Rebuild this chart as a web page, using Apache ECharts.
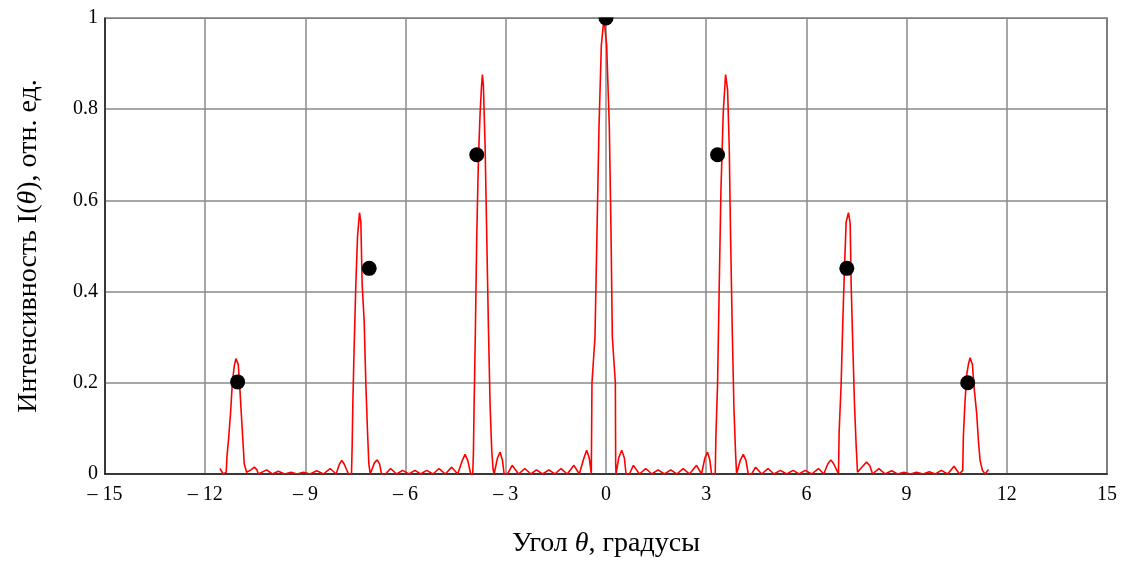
<!DOCTYPE html>
<html>
<head>
<meta charset="utf-8">
<script src="https://cdn.jsdelivr.net/npm/echarts@6/dist/echarts.min.js"></script>
<style>
  html, body { margin: 0; padding: 0; background: #fff; }
  #chart { width: 1129px; height: 563px; }
</style>
</head>
<body>
<div id="chart"></div>
<script>
// угол (градусы) и интенсивность
var angles = [
  -11.56, -11.46, -11.37, -11.35, -11.30, -11.24, -11.19, -11.13, -11.08, -11.05, -11.01, -10.97, -10.93, -10.88, -10.83, -10.76, -10.73,
  -10.63, -10.53, -10.45, -10.41, -10.16, -9.99, -9.81, -9.62, -9.43, -9.25, -9.06, -8.86, -8.66, -8.46, -8.26, -8.08, -7.98, -7.91, -7.84, -7.71,
  -7.62, -7.60, -7.58, -7.54, -7.49, -7.44, -7.38, -7.34, -7.30, -7.24, -7.19, -7.14, -7.10, -7.06,
  -6.93, -6.85, -6.78, -6.72, -6.60, -6.45, -6.27, -6.09, -5.90, -5.72, -5.55, -5.37, -5.18, -5.00, -4.81, -4.62, -4.44, -4.30, -4.22, -4.14, -4.05,
  -3.99, -3.97, -3.95, -3.91, -3.87, -3.82, -3.77, -3.73, -3.70, -3.67, -3.62, -3.57, -3.52, -3.47, -3.42, -3.38, -3.35,
  -3.25, -3.17, -3.10, -3.05, -2.95, -2.81, -2.62, -2.43, -2.25, -2.08, -1.90, -1.71, -1.53, -1.35, -1.16, -0.96, -0.80, -0.66, -0.58, -0.50, -0.44,
  -0.43, -0.42, -0.33, -0.27, -0.21, -0.14, -0.06, 0.02, 0.10, 0.15, 0.19, 0.28, 0.29, 0.30,
  0.38, 0.47, 0.55, 0.60, 0.70, 0.82, 1.00, 1.19, 1.37, 1.56, 1.75, 1.94, 2.12, 2.31, 2.50, 2.71, 2.86, 2.96, 3.04, 3.11, 3.16,
  3.27, 3.29, 3.34, 3.39, 3.44, 3.51, 3.58, 3.64, 3.69, 3.73, 3.78, 3.83, 3.88, 3.91,
  4.02, 4.11, 4.19, 4.26, 4.36, 4.48, 4.66, 4.85, 5.03, 5.22, 5.41, 5.60, 5.78, 5.96, 6.16, 6.36, 6.52, 6.64, 6.73, 6.82, 6.96,
  6.98, 7.04, 7.09, 7.14, 7.19, 7.26, 7.31, 7.34, 7.39, 7.44, 7.49, 7.53, 7.56,
  7.70, 7.80, 7.90, 7.98, 8.17, 8.36, 8.55, 8.73, 8.92, 9.11, 9.30, 9.49, 9.68, 9.86, 10.04, 10.23, 10.42, 10.58, 10.62,
  10.68, 10.70, 10.75, 10.80, 10.85, 10.90, 10.95, 10.97, 11.02, 11.10, 11.15, 11.20, 11.27, 11.35, 11.45
]
var intensity = [
  0.012, 0, 0.004, 0.037, 0.077, 0.135, 0.197, 0.237, 0.253, 0.253, 0.240, 0.197, 0.146, 0.084, 0.022, 0.004, 0,
  0.009, 0.015, 0.009, 0, 0.009, 0, 0.006, 0, 0.004, 0, 0.004, 0, 0.007, 0, 0.012, 0, 0.022, 0.030, 0.022, 0,
  0, 0.062, 0.153, 0.280, 0.415, 0.520, 0.573, 0.553, 0.415, 0.335, 0.197, 0.092, 0.022, 0,
  0.025, 0.031, 0.022, 0, 0, 0.012, 0, 0.008, 0, 0.008, 0, 0.008, 0, 0.012, 0, 0.015, 0, 0.030, 0.043, 0.030, 0,
  0, 0.044, 0.146, 0.317, 0.520, 0.690, 0.790, 0.847, 0.876, 0.850, 0.720, 0.520, 0.320, 0.150, 0.050, 0.010, 0,
  0.035, 0.048, 0.030, 0, 0, 0.019, 0, 0.012, 0, 0.009, 0, 0.009, 0, 0.012, 0, 0.019, 0, 0.035, 0.052, 0.035, 0,
  0, 0.200, 0.300, 0.530, 0.760, 0.940, 1.000, 0.940, 0.760, 0.530, 0.300, 0.200, 0.020, 0,
  0.035, 0.052, 0.035, 0, 0, 0.019, 0, 0.012, 0, 0.009, 0, 0.009, 0, 0.012, 0, 0.019, 0, 0.035, 0.048, 0.030, 0,
  0, 0.081, 0.197, 0.411, 0.618, 0.792, 0.876, 0.843, 0.716, 0.520, 0.317, 0.146, 0.044, 0,
  0.030, 0.043, 0.030, 0, 0, 0.015, 0, 0.012, 0, 0.008, 0, 0.008, 0, 0.008, 0, 0.012, 0, 0.022, 0.031, 0.022, 0,
  0.092, 0.197, 0.335, 0.451, 0.553, 0.573, 0.550, 0.415, 0.280, 0.153, 0.062, 0.004, 0,
  0.018, 0.026, 0.018, 0, 0.012, 0, 0.007, 0, 0.004, 0, 0.004, 0, 0.005, 0, 0.008, 0, 0.017, 0, 0,
  0.008, 0.084, 0.160, 0.218, 0.240, 0.255, 0.255, 0.240, 0.190, 0.131, 0.073, 0.030, 0.008, 0, 0.010
]

// чёрные точки
var dotAngles = [-11.03, -7.09, -3.87, 0, 3.34, 7.21, 10.83]
var dotValues = [0.202, 0.451, 0.700, 1.0, 0.700, 0.451, 0.200]

var xTicks = [-15, -12, -9, -6, -3, 0, 3, 6, 9, 12, 15]
var yTicks = [0, 0.2, 0.4, 0.6, 0.8, 1]

var lineData = []
for (var i = 0; i < angles.length; i++) {
  lineData.push([angles[i], intensity[i]])
}
var dotData = []
for (var j = 0; j < dotAngles.length; j++) {
  dotData.push([dotAngles[j], dotValues[j]])
}

var font = 'Liberation Serif'
var chart = echarts.init(document.getElementById('chart'))
var option = {
  backgroundColor: '#fff',
  animation: false,
  grid: {
    left: 105,
    right: 22,
    top: 18,
    bottom: 86,
    show: true,
    borderColor: '#222',
    borderWidth: 1.5
  },
  xAxis: {
    type: 'value',
    min: xTicks[0],
    max: xTicks[xTicks.length - 1],
    interval: 3,
    name: 'Угол {i|θ}, градусы',
    nameLocation: 'middle',
    nameGap: 56,
    nameTextStyle: {
      fontFamily: font,
      fontSize: 28,
      color: '#000',
      rich: { i: { fontFamily: font, fontSize: 28, fontStyle: 'italic', color: '#000' } }
    },
    axisLine: { show: true, onZero: false, lineStyle: { color: '#222', width: 1.5 } },
    axisTick: { show: false },
    axisLabel: {
      fontFamily: font,
      fontSize: 20,
      color: '#000',
      margin: 11,
      formatter: function(v) {
        return v < 0 ? '– ' + Math.abs(v) : String(v)
      }
    },
    splitLine: { show: true, lineStyle: { color: '#8a8a8a', width: 1.5 } }
  },
  yAxis: {
    type: 'value',
    min: yTicks[0],
    max: yTicks[yTicks.length - 1],
    interval: 0.2,
    name: 'Интенсивность I({i|θ}), отн. ед.',
    nameLocation: 'middle',
    nameGap: 62,
    nameTextStyle: {
      fontFamily: font,
      fontSize: 28,
      color: '#000',
      rich: { i: { fontFamily: font, fontSize: 28, fontStyle: 'italic', color: '#000' } }
    },
    axisLine: { show: true, onZero: false, lineStyle: { color: '#222', width: 1.5 } },
    axisTick: { show: false },
    axisLabel: {
      fontFamily: font,
      fontSize: 20,
      color: '#000',
      margin: 7,
      formatter: function(v) {
        return String(Math.round(v * 10) / 10)
      }
    },
    splitLine: { show: true, lineStyle: { color: '#8a8a8a', width: 1.5 } }
  },
  series: [
    {
      type: 'line',
      data: lineData,
      showSymbol: false,
      symbol: 'none',
      lineStyle: { color: '#ff0000', width: 1.6 },
      z: 3
    },
    {
      type: 'scatter',
      data: dotData,
      symbol: 'circle',
      symbolSize: 15,
      itemStyle: { color: '#000', opacity: 1 },
      z: 4
    }
  ],
  // верхняя половина точки в 1 срезается рамкой, как в оригинале
  graphic: [
    {
      type: 'rect',
      shape: { x: 100, y: 0, width: 1029, height: 17.2 },
      style: { fill: '#fff' },
      z: 100
    }
  ]
}
chart.setOption(option)
</script>
</body>
</html>
